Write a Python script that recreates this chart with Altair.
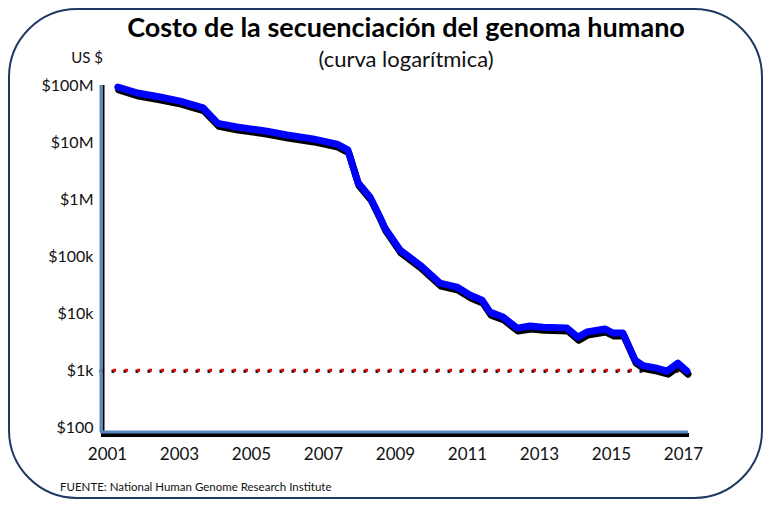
import altair as alt
import pandas as pd

# ---- data ----
years = [2001.3, 2001.85, 2002.47, 2003.03, 2003.67, 2004.08, 2004.61, 2005.44,
         2006.0, 2006.72, 2007.39, 2007.69, 2007.97, 2008.31, 2008.58, 2008.72,
         2009.14, 2009.69, 2010.25, 2010.72, 2011.08, 2011.42, 2011.64, 2012.0,
         2012.39, 2012.75, 2013.11, 2013.78, 2014.08, 2014.33, 2014.83, 2015.06,
         2015.33, 2015.67, 2015.89, 2016.28, 2016.56, 2016.86, 2017.11]
costs = [96e6, 75e6, 64e6, 54e6, 41e6, 22e6, 19e6, 16e6,
         13.7e6, 11.7e6, 9.5e6, 7.5e6, 2.0e6, 1.1e6, 494e3, 316e3,
         130e3, 71e3, 34e3, 29e3, 21e3, 17e3, 10.5e3, 8.6e3,
         5.5e3, 6.0e3, 5.7e3, 5.5e3, 3.8e3, 4.7e3, 5.3e3, 4.5e3,
         4.5e3, 1.5e3, 1.2e3, 1.08e3, 0.96e3, 1.33e3, 0.96e3]
reference_cost = 1000
tick_years = [2001, 2003, 2005, 2007, 2009, 2011, 2013, 2015, 2017]
tick_costs = [100, 1e3, 1e4, 1e5, 1e6, 1e7, 1e8]
tick_labels = ["$100", "$1k", "$10k", "$100k", "$1M", "$10M", "$100M"]

title_text = "Costo de la secuenciación del genoma humano"
subtitle_text = "(curva logarítmica)"
unit_text = "US $"
source_text = "FUENTE: National Human Genome Research Institute"

df = pd.DataFrame({"year": years, "cost": costs})
one = pd.DataFrame({"k": [0]})

W, H = 587, 347
FONT = "Lato"

label_expr = " : ".join([f"datum.value == {int(v)} ? '{l}'" for v, l in zip(tick_costs, tick_labels)]) + " : ''"

xs = alt.Scale(domain=[2000.833, 2017.139], nice=False, zero=False)
ys = alt.Scale(type="log", domain=[81.7, 1.04e8], nice=False)

xaxis = alt.Axis(values=tick_years, format="d", title=None, domain=False, ticks=False,
                 grid=False, labelFont=FONT, labelFontSize=17, labelColor="#111",
                 labelPadding=14)
yaxis = alt.Axis(values=tick_costs, labelExpr=label_expr, title=None, domain=False,
                 ticks=False, grid=False, labelFont=FONT, labelFontSize=16,
                 labelColor="#111", labelPadding=8)

base = alt.Chart(df)

line_shadow = base.mark_line(color="black", strokeWidth=7, xOffset=1, yOffset=3,
                             strokeJoin="round", strokeCap="round").encode(
    x=alt.X("year:Q", scale=xs, axis=xaxis),
    y=alt.Y("cost:Q", scale=ys, axis=yaxis),
)
line_main = base.mark_line(color="#0000ff", strokeWidth=7, strokeJoin="round",
                           strokeCap="round").encode(
    x=alt.X("year:Q", scale=xs),
    y=alt.Y("cost:Q", scale=ys),
)

ref_df = pd.DataFrame({"cost": [reference_cost]})
dots_shadow = alt.Chart(ref_df).mark_rule(color="black", strokeWidth=3,
                                          strokeDash=[3, 9], xOffset=-1.5, yOffset=1).encode(
    y=alt.Y("cost:Q", scale=ys), x=alt.value(0), x2=alt.value(W))
dots_red = alt.Chart(ref_df).mark_rule(color="#ff0000", strokeWidth=3,
                                       strokeDash=[3, 9]).encode(
    y=alt.Y("cost:Q", scale=ys), x=alt.value(0), x2=alt.value(W))

o = alt.Chart(one)
yax_shadow = o.mark_rule(color="black", strokeWidth=2).encode(
    x=alt.value(2.5), y=alt.value(0), y2=alt.value(H + 3))
yax = o.mark_rule(color="#5b87c5", strokeWidth=3).encode(
    x=alt.value(0), y=alt.value(0), y2=alt.value(H))
xax_shadow = o.mark_rule(color="black", strokeWidth=4).encode(
    y=alt.value(H + 3), x=alt.value(0), x2=alt.value(W + 1))
xax = o.mark_rule(color="#5b87c5", strokeWidth=3).encode(
    y=alt.value(H), x=alt.value(-1), x2=alt.value(W))

border = o.mark_rect(fillOpacity=0, stroke="#1f3864", strokeWidth=2,
                     cornerRadius=68).encode(
    x=alt.value(-92), x2=alt.value(661), y=alt.value(-76), y2=alt.value(413))

title = o.mark_text(text=title_text, font=FONT, fontSize=27, fontWeight="bold",
                    color="black", align="center", baseline="alphabetic").encode(
    x=alt.value(305), y=alt.value(-48))
subtitle = o.mark_text(text=subtitle_text, font=FONT, fontSize=22, color="#111",
                       align="center", baseline="alphabetic").encode(
    x=alt.value(305), y=alt.value(-18))
unit = o.mark_text(text=unit_text, font=FONT, fontSize=15, color="#111",
                   align="right", baseline="alphabetic").encode(
    x=alt.value(2), y=alt.value(-22))
source = o.mark_text(text=source_text, font=FONT, fontSize=11.5, color="#111",
                     align="left", baseline="alphabetic").encode(
    x=alt.value(-41), y=alt.value(406))

chart = alt.layer(
    border, title, subtitle, unit, source,
    dots_shadow, dots_red,
    line_shadow, line_main,
    yax_shadow, xax_shadow, yax, xax,
).properties(
    width=W, height=H,
    autosize=alt.AutoSizeParams(type="none"),
    padding={"left": 93, "top": 77, "right": 75, "bottom": 67},
    background="white",
).configure_view(stroke=None)

chart.save("out.html", embed_options={"renderer": "svg", "actions": False})
